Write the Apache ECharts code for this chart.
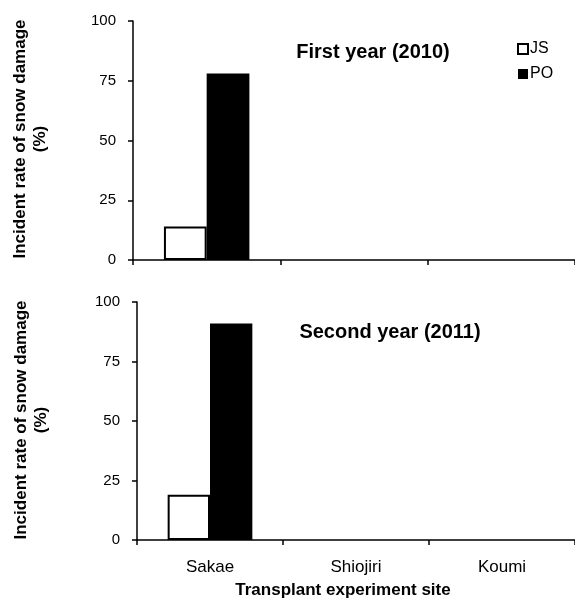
<!DOCTYPE html>
<html>
<head>
<meta charset="utf-8">
<script src="https://cdn.jsdelivr.net/npm/echarts@6/dist/echarts.min.js"></script>
<style>
html,body{margin:0;padding:0;background:#fff;}
#chart{width:575px;height:599px;}
</style>
</head>
<body>
<div id="chart"></div>
<script>
const categories = ['Sakae', 'Shiojiri', 'Koumi'];
const seriesNames = ['JS', 'PO'];
const js2010 = [14, 0, 0];
const po2010 = [78, 0, 0];
const js2011 = [19, 0, 0];
const po2011 = [91, 0, 0];
const yTicks = [0, 25, 50, 75, 100];
const panelTitles = ['First year (2010)', 'Second year (2011)'];
const yAxisTitle = 'Incident rate of snow damage\n(%)';
const xAxisTitle = 'Transplant experiment site';

const FONT = "'Liberation Sans', Arial, sans-serif";
const chart = echarts.init(document.getElementById('chart'), null, {renderer: 'canvas'});

function xAx(gridIndex, showLabels) {
  return {
    type: 'category', gridIndex: gridIndex, data: categories,
    axisLine: {lineStyle: {color: '#000', width: 1.5}},
    axisTick: {show: true, alignWithLabel: false, length: 5, lineStyle: {color: '#000', width: 1.5}},
    axisLabel: {show: showLabels, color: '#000', fontSize: 17, fontFamily: FONT, margin: 19}
  };
}
function yAx(gridIndex) {
  return {
    type: 'value', gridIndex: gridIndex, min: yTicks[0], max: yTicks[yTicks.length - 1], interval: 25,
    splitLine: {show: false},
    axisLine: {show: true, lineStyle: {color: '#000', width: 1.5}},
    axisTick: {show: true, length: 5, lineStyle: {color: '#000', width: 1.5}},
    axisLabel: {color: '#000', fontSize: 15, fontFamily: FONT, margin: 17}
  };
}
function barSeries(name, data, idx, fill) {
  return {
    name: name, type: 'bar', xAxisIndex: idx, yAxisIndex: idx,
    data: data.map(v => v === 0 ? {value: v, itemStyle: {borderWidth: 0}} : v),
    barGap: '0%', barCategoryGap: '42%',
    itemStyle: {color: fill, borderColor: '#000', borderWidth: fill === '#fff' ? 2 : 0},
    emphasis: {disabled: true}
  };
}

chart.setOption({
  backgroundColor: '#fff',
  animation: false,
  grid: [
    {left: 133, top: 21, width: 445, height: 239},
    {left: 137, top: 302, width: 445, height: 238}
  ],
  xAxis: [xAx(0, false), xAx(1, true)],
  yAxis: [yAx(0), yAx(1)],
  legend: {
    data: [
      {name: seriesNames[0], icon: 'rect', itemStyle: {color: '#fff', borderColor: '#000', borderWidth: 2}},
      {name: seriesNames[1], icon: 'rect'}
    ],
    orient: 'vertical', left: 517, top: 41, padding: 0, itemWidth: 10, itemHeight: 10, itemGap: 9,
    textStyle: {color: '#000', fontSize: 16, fontFamily: FONT, padding: [0, 0, 0, -3]},
    selectedMode: false
  },
  series: [
    barSeries(seriesNames[0], js2010, 0, '#fff'),
    barSeries(seriesNames[1], po2010, 0, '#000'),
    barSeries(seriesNames[0], js2011, 1, '#fff'),
    barSeries(seriesNames[1], po2011, 1, '#000')
  ],
  graphic: [
    {type: 'text', x: 373, y: 52, style: {text: panelTitles[0], font: 'bold 20px ' + FONT, fill: '#000', textAlign: 'center', textVerticalAlign: 'middle'}},
    {type: 'text', x: 390, y: 332, style: {text: panelTitles[1], font: 'bold 20px ' + FONT, fill: '#000', textAlign: 'center', textVerticalAlign: 'middle'}},
    {type: 'text', x: 30, y: 139, rotation: Math.PI / 2, style: {text: yAxisTitle, font: 'bold 17px ' + FONT, lineHeight: 20, fill: '#000', textAlign: 'center', textVerticalAlign: 'middle'}},
    {type: 'text', x: 31, y: 420, rotation: Math.PI / 2, style: {text: yAxisTitle, font: 'bold 17px ' + FONT, lineHeight: 20, fill: '#000', textAlign: 'center', textVerticalAlign: 'middle'}},
    {type: 'text', x: 343, y: 590, style: {text: xAxisTitle, font: 'bold 17px ' + FONT, fill: '#000', textAlign: 'center', textVerticalAlign: 'middle'}}
  ]
});
</script>
</body>
</html>
